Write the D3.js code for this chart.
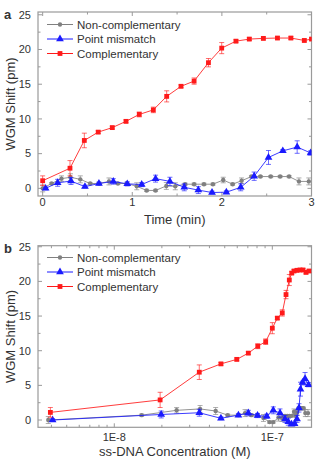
<!DOCTYPE html>
<html><head><meta charset="utf-8">
<script src="https://cdn.jsdelivr.net/npm/d3@7"></script>
<style>
html,body{margin:0;padding:0;background:#fff;}
svg text{font-family:"Liberation Sans",Arial,sans-serif;}
</style></head>
<body><svg id="c" width="317" height="460"></svg>
<script>
// ---------- data ----------
const seriesNames = ["Non-complementary","Point mismatch","Complementary"];
const seriesColors = ["#808080","#1a1aff","#ff1a1a"];

const timeGray  = [0,0.1,0.21,0.31,0.42,0.53,0.63,0.74,0.84,0.94,1.05,1.16,1.26,1.38,1.48,1.59,1.69,1.80,1.90,2.015,2.12,2.22,2.33,2.43,2.545,2.65,2.75,2.86,2.97];
const shiftGray = [0.0,0.7,1.4,1.6,1.3,0.7,0.7,1.0,0.7,0.7,0.3,-0.3,-0.3,0.35,0.3,0.6,0.6,0.6,0.6,1.2,0.6,1.1,1.7,1.7,1.7,1.7,1.7,1.0,1.0];
const errGray   = [0.5,0.15,0.4,0.5,0.5,0.15,0.15,0.5,0.15,0.15,0.5,0.15,0.15,0.5,0.5,0.15,0.15,0.15,0.15,0.4,0.15,0.4,0.15,0.15,0.15,0.15,0.15,0.5,0.5];
const concGray  = [3.82e-9,1.49e-8,2.48e-8,3.49e-8,4.38e-8,5.22e-8,6.10e-8,6.72e-8,7.38e-8,8.06e-8,8.79e-8,9.60e-8,1.014e-7,1.094e-7,1.151e-7,1.203e-7,1.245e-7,1.284e-7,1.323e-7,1.372e-7,1.402e-7,1.433e-7,1.469e-7,1.490e-7,1.514e-7,1.541e-7,1.575e-7,1.618e-7,1.683e-7];

const timeBlue  = [0.033,0.167,0.316,0.472,0.628,0.788,0.944,1.105,1.26,1.42,1.58,1.737,1.89,2.05,2.21,2.36,2.52,2.68,2.84,2.99];
const shiftBlue = [0.0,0.8,1.05,0.25,0.7,1.0,0.65,0.55,1.4,1.0,0.15,-0.25,-0.6,-0.55,0.15,1.75,4.45,5.4,5.95,5.1];
const errBlue   = [0.2,0.5,0.5,0.2,0.2,0.4,0.3,0.3,0.5,0.6,0.5,0.5,0.2,0.2,0.5,0.6,1.0,0.2,0.9,0.3];
const concBlue  = [4.07e-9,1.98e-8,3.45e-8,4.73e-8,6.10e-8,7.05e-8,8.06e-8,9.22e-8,1.014e-7,1.119e-7,1.203e-7,1.262e-7,1.323e-7,1.383e-7,1.433e-7,1.475e-7,1.508e-7,1.553e-7,1.611e-7,1.695e-7];

const timeRed   = [0,0.305,0.465,0.62,0.777,0.93,1.078,1.235,1.384,1.544,1.69,1.85,1.998,2.157,2.306,2.463,2.62,2.77,2.92,3.0];
const shiftRed  = [1.1,2.9,6.9,8.1,8.75,9.65,10.65,11.3,13.25,14.7,15.45,18.1,20.2,21.2,21.5,21.6,21.65,21.65,21.3,21.5];
const errRed    = [0.7,1.1,1.05,0.2,0.2,0.2,0.35,0.4,0.8,0.2,0.45,0.6,0.8,0.2,0.2,0.2,0.2,0.2,0.2,0.2];
const concRed   = [3.94e-9,1.95e-8,3.45e-8,4.73e-8,5.96e-8,7.05e-8,8.09e-8,9.08e-8,1.0e-7,1.076e-7,1.156e-7,1.221e-7,1.281e-7,1.327e-7,1.372e-7,1.433e-7,1.497e-7,1.564e-7,1.634e-7,1.708e-7];

const yTicks = [0,5,10,15,20,25];
const timeTicks = [0,1,2,3];
const concTicks = [1e-8,1e-7];
const concTickLabels = ["1E-8","1E-7"];

// ---------- drawing ----------
const svg = d3.select("#c");
const axisColor = "#9a9a9a";
const textColor = "#333";

function panel(opts){
  const {top,bottom,left,right,xScale,xMinor,xMajor,xLabels,xTitle,letter,xs} = opts;
  const g = svg.append("g");
  const y = d3.scaleLinear().domain(opts.yDomain).range([bottom,top]);
  g.append("rect").attr("x",left).attr("y",top).attr("width",right-left).attr("height",bottom-top)
    .attr("fill","none").attr("stroke",axisColor).attr("stroke-width",1.2);
  const yMinor = d3.range(0,25.01,2.5);
  yMinor.forEach(v=>{
    const major = Math.abs(v%5)<1e-6;
    const len = major?4:2.5;
    g.append("line").attr("x1",left).attr("x2",left+len).attr("y1",y(v)).attr("y2",y(v)).attr("stroke",axisColor);
    g.append("line").attr("x1",right).attr("x2",right-len).attr("y1",y(v)).attr("y2",y(v)).attr("stroke",axisColor);
  });
  yTicks.forEach(v=>{
    g.append("text").attr("x",left-7).attr("y",y(v)).attr("dy","0.35em").attr("text-anchor","end")
      .attr("font-size",11).attr("fill",textColor).text(v);
  });
  xMinor.forEach(v=>{
    g.append("line").attr("x1",xScale(v)).attr("x2",xScale(v)).attr("y1",bottom).attr("y2",bottom-2.5).attr("stroke",axisColor);
    g.append("line").attr("x1",xScale(v)).attr("x2",xScale(v)).attr("y1",top).attr("y2",top+2.5).attr("stroke",axisColor);
  });
  xMajor.forEach((v,i)=>{
    g.append("line").attr("x1",xScale(v)).attr("x2",xScale(v)).attr("y1",bottom).attr("y2",bottom-4).attr("stroke",axisColor);
    g.append("line").attr("x1",xScale(v)).attr("x2",xScale(v)).attr("y1",top).attr("y2",top+4).attr("stroke",axisColor);
    g.append("text").attr("x",xScale(v)).attr("y",bottom+opts.labelOff).attr("text-anchor","middle")
      .attr("font-size",11).attr("fill",textColor).text(xLabels[i]);
  });
  g.append("text").attr("x",(left+right)/2).attr("y",bottom+opts.titleOff).attr("text-anchor","middle")
    .attr("font-size",13).attr("fill",textColor).text(xTitle);
  g.append("text").attr("transform",`translate(15,${(top+bottom)/2}) rotate(-90)`).attr("text-anchor","middle")
    .attr("font-size",13).attr("fill",textColor).text("WGM Shift (pm)");
  g.append("text").attr("x",4).attr("y",top+7).attr("font-size",13).attr("font-weight","bold").attr("fill",textColor).text(letter);

  const clipId = "clip"+letter;
  svg.append("clipPath").attr("id",clipId).append("rect").attr("x",left).attr("y",top).attr("width",right-left).attr("height",bottom-top);
  const data = [
    {xs:xs[0], ys:shiftGray, es:errGray, c:0},
    {xs:xs[1], ys:shiftBlue, es:errBlue, c:1},
    {xs:xs[2], ys:shiftRed, es:errRed, c:2}
  ];
  data.forEach(s=>{
    const col = seriesColors[s.c];
    const pts = s.xs.map((xv,i)=>({x:xScale(xv), y:y(s.ys[i]), e:s.es[i], v:s.ys[i]}));
    const sg = g.append("g").attr("clip-path",`url(#${clipId})`);
    sg.append("path").attr("d",d3.line().x(d=>d.x).y(d=>d.y)(pts)).attr("fill","none").attr("stroke",col).attr("stroke-width",1).attr("opacity",0.85);
    pts.forEach(p=>{
      const y1 = y(p.v+p.e), y2 = y(p.v-p.e);
      sg.append("line").attr("x1",p.x).attr("x2",p.x).attr("y1",y1).attr("y2",y2).attr("stroke",col).attr("stroke-width",0.9).attr("opacity",0.7);
      [y1,y2].forEach(yy=>sg.append("line").attr("x1",p.x-2.5).attr("x2",p.x+2.5).attr("y1",yy).attr("y2",yy).attr("stroke",col).attr("stroke-width",0.9).attr("opacity",0.7));
    });
    pts.forEach(p=>marker(sg,s.c,p.x,p.y));
  });

  const lx = left+9, ly = opts.legendTop;
  seriesNames.forEach((n,i)=>{
    const yy = ly + i*14.5;
    g.append("line").attr("x1",lx).attr("x2",lx+26).attr("y1",yy).attr("y2",yy).attr("stroke",seriesColors[i]).attr("stroke-width",1);
    marker(g,i,lx+13,yy);
    g.append("text").attr("x",lx+30).attr("y",yy).attr("dy","0.36em").attr("font-size",11.5).attr("fill",textColor).text(n);
  });
}

function marker(g,c,x,y){
  const col = seriesColors[c];
  if(c===0){
    g.append("circle").attr("cx",x).attr("cy",y).attr("r",2.2).attr("fill",col);
  } else if(c===1){
    g.append("path").attr("d",d3.symbol(d3.symbolTriangle,26)()).attr("transform",`translate(${x},${y})`).attr("fill",col);
  } else {
    g.append("rect").attr("x",x-2.4).attr("y",y-2.4).attr("width",4.8).attr("height",4.8).attr("fill",col);
  }
}

// panel a
const xTime = d3.scaleLinear().domain([-0.052,3.0]).range([38,311.5]);
panel({top:12,bottom:196,left:38,right:311.5,yDomain:[-1.1,25.4],xScale:xTime,
  xMinor:[0.5,1.5,2.5], xMajor:timeTicks, xLabels:timeTicks.map(String), xTitle:"Time (min)", letter:"a",
  xs:[timeGray,timeBlue,timeRed], legendTop:24.5, labelOff:10, titleOff:28});

// panel b
const xConc = d3.scaleLog().domain([3.29e-9,1.77e-7]).range([38,311.5]);
const concMinor = [];
[1e-9,1e-8,1e-7].forEach(d=>{for(let k=2;k<=9;k++){const v=k*d; if(v>=3.29e-9&&v<=1.77e-7) concMinor.push(v);}});
panel({top:245.7,bottom:427.3,left:38,right:311.5,yDomain:[-1.05,25.15],xScale:xConc,
  xMinor:concMinor, xMajor:concTicks, xLabels:concTickLabels, xTitle:"ss-DNA Concentration (M)", letter:"b",
  xs:[concGray,concBlue,concRed], legendTop:257.5, labelOff:13.5, titleOff:28.5});
</script></body></html>
